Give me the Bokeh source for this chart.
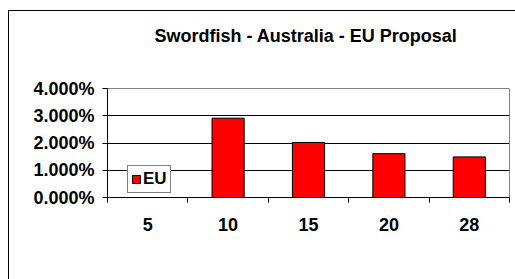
from bokeh.plotting import figure
from bokeh.models import Range1d, FixedTicker, NumeralTickFormatter, Legend, ColumnDataSource, Title
from bokeh.embed import file_html
from bokeh.resources import INLINE

categories = ["5", "10", "15", "20", "28"]
eu_values = [0.0, 0.0291, 0.0202, 0.0161, 0.0149]
y_ticks = [0.0, 0.01, 0.02, 0.03, 0.04]
title_text = "Swordfish - Australia  - EU Proposal"

FONT = "Liberation Sans"
xs = [i + 0.5 for i in range(len(categories))]
src = ColumnDataSource(dict(x=xs, top=eu_values))

p = figure(width=507, height=269, frame_width=402, frame_height=109,
           output_backend="svg", toolbar_location=None,
           x_range=Range1d(0, len(categories)), y_range=Range1d(0, 0.04),
           min_border_left=98, min_border_right=7, min_border_top=77, min_border_bottom=83)
p.margin = (10, 0, 0, 8)
p.styles = {"border-left": "1px solid black", "border-top": "1px solid black"}

p.title.text = ""
spacer = Title(text=" ", text_font_size="1px", standoff=40, align="center")
main_title = Title(text=title_text, align="center", text_font=FONT, text_font_size="18px",
                   text_font_style="bold", text_color="black", standoff=0)
p.add_layout(spacer, "above")
p.add_layout(main_title, "above")

r = p.vbar(x="x", top="top", width=0.4, bottom=0, source=src,
           fill_color="#FF0000", line_color="black", line_width=1)

p.outline_line_color = "#808080"
p.background_fill_color = "white"
p.border_fill_color = "white"

# y axis
p.yaxis.ticker = FixedTicker(ticks=y_ticks)
p.yaxis.formatter = NumeralTickFormatter(format="0.000%")
p.yaxis.major_label_text_font = FONT
p.yaxis.major_label_text_font_size = "18px"
p.yaxis.major_label_text_font_style = "bold"
p.yaxis.major_label_text_color = "black"
p.yaxis.major_tick_out = 5
p.yaxis.major_tick_in = 0
p.yaxis.minor_tick_line_color = None
p.yaxis.axis_line_color = "black"
p.yaxis.major_tick_line_color = "black"
p.yaxis.major_label_standoff = 8

p.ygrid.ticker = FixedTicker(ticks=y_ticks)
p.ygrid.grid_line_color = "black"
p.ygrid.grid_line_alpha = 1.0
p.xgrid.grid_line_color = None

# x axis: labels at category centres, tick marks at boundaries
p.xaxis.ticker = FixedTicker(ticks=xs, minor_ticks=list(range(len(categories) + 1)))
p.xaxis.major_label_overrides = {x: c for x, c in zip(xs, categories)}
p.xaxis.major_tick_line_color = None
p.xaxis.major_tick_out = 0
p.xaxis.major_tick_in = 0
p.xaxis.minor_tick_line_color = "black"
p.xaxis.minor_tick_out = 5
p.xaxis.minor_tick_in = 0
p.xaxis.axis_line_color = "black"
p.xaxis.major_label_text_font = FONT
p.xaxis.major_label_text_font_size = "18px"
p.xaxis.major_label_text_font_style = "bold"
p.xaxis.major_label_text_color = "black"
p.xaxis.major_label_standoff = 15

legend = Legend(items=[("EU", [r])], location=(20, 4), orientation="horizontal",
                border_line_color="black", border_line_width=1,
                background_fill_color="white", background_fill_alpha=1.0,
                label_text_font=FONT, label_text_font_size="17px",
                label_text_font_style="bold", label_text_color="black",
                glyph_width=10, glyph_height=10, label_standoff=2,
                padding=3, margin=0, spacing=0)
p.add_layout(legend)

open("out.html", "w").write(file_html(p, INLINE))
